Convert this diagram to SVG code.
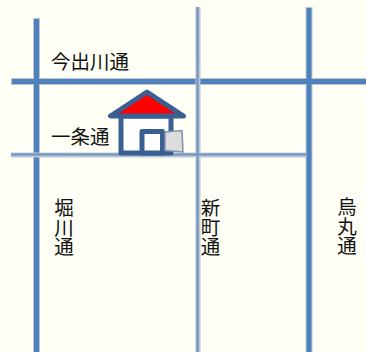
<svg xmlns="http://www.w3.org/2000/svg" width="366" height="352" viewBox="0 0 366 352">
<style>
.halo{stroke:#bcc6d2;fill:none}
.road{stroke:#4f81bd;fill:none}
.thin{stroke:#6f94c4;fill:none}
.lbl{font-family:"Noto Sans CJK JP","Noto Sans CJK SC",sans-serif;font-size:19.500px;fill:#111}
.v{writing-mode:vertical-rl;font-size:19.500px}
.hs{stroke:#3a5f92;stroke-linejoin:round}
</style>
<rect width="366" height="352" fill="#fffff6"/>
<g id="connectors">
<path class="halo" stroke-width="7" d="M36.500 18V352M309 7V352M11 81.500H366"/>
<path class="road" stroke-width="5" d="M36.500 19V352M309 8V352M12 81.500H366"/>
<path class="halo" stroke-width="5" d="M198 7V352M11 155H306"/>
<path class="thin" stroke-width="2" d="M197.500 7V352M11 154.500H306"/>
</g>
<g id="road-imadegawa"><text class="lbl" x="51" y="69">今出川通</text></g>
<g id="road-ichijo"><text class="lbl" x="51" y="143.500">一条通</text></g>
<g id="road-horikawa"><text class="lbl v" x="64" y="198">堀川通</text></g>
<g id="road-shinmachi"><text class="lbl v" x="210.500" y="198">新町通</text></g>
<g id="road-karasuma"><text class="lbl v" x="347" y="197">烏丸通</text></g>
<g id="house">
<rect class="hs" x="121" y="116" width="50" height="37" fill="#fff" stroke-width="5"/>
<path class="hs" d="M147 92L110.500 116H183.500Z" fill="#f00" stroke-width="5"/>
<rect class="hs" x="142" y="131.500" width="20.500" height="21.500" fill="#fff" stroke-width="5"/>
<path d="M165 132L182 130.500L183 152L165 150.500Z" fill="#dcdcdc" stroke="#7f93ad" stroke-width="1.500"/>
</g>
</svg>
